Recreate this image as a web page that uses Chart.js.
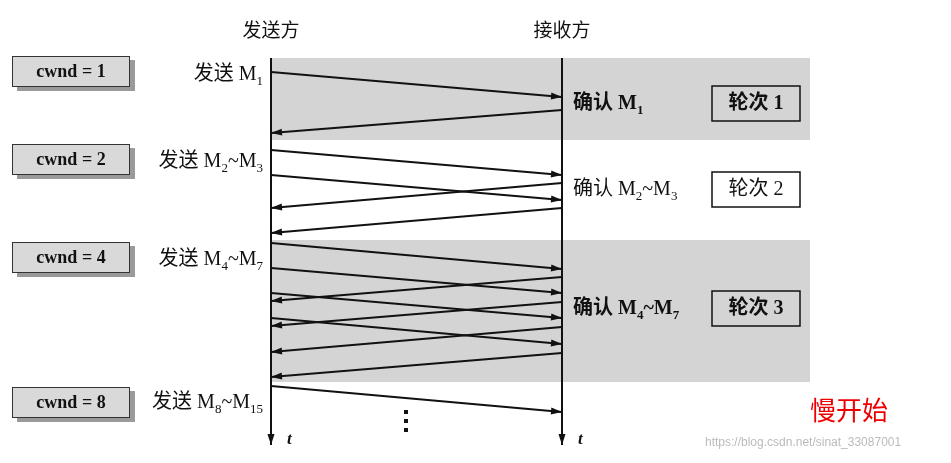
<!DOCTYPE html>
<html><head><meta charset="utf-8">
<script src="https://cdn.jsdelivr.net/npm/chart.js@4"></script>
<style>html,body{margin:0;padding:0;background:#fff}#c{display:block}</style>
</head><body>
<div style="width:951px;height:463px"><canvas id="c"></canvas></div>
<script>
// Timeline positions (x of sender/receiver, y in picture units, top = 0)
const senderX = 271, receiverX = 562;
// segments: [startY at sender, endY at receiver] for sends; [startY at receiver, endY at sender] for acks
const sends = [[72,97],[150,175],[175,200],[243,269],[268,293],[293,318],[318,344],[386,412]];
const acks = [[110,133],[183,208],[208,233],[277,301],[302,326],[327,352],[353,377]];
const cwndLabels = ["cwnd = 1","cwnd = 2","cwnd = 4","cwnd = 8"];
const cwndY = [72,160,258,403];
const sendLabels = [["发送 M","1",""],["发送 M","2","~M","3"],["发送 M","4","~M","7"],["发送 M","8","~M","15"]];
const sendLabelY = [75,162,260,403];
const ackLabels = [["确认 M","1"],["确认 M","2","~M","3"],["确认 M","4","~M","7"]];
const ackLabelY = [104,190,309];
const roundLabels = ["轮次 1","轮次 2","轮次 3"];
const bands = [[58,140],[240,382]];

const datasets = [];
sends.forEach(s => datasets.push({data:[{x:senderX,y:s[0]},{x:receiverX,y:s[1]}],arrow:true}));
acks.forEach(a => datasets.push({data:[{x:receiverX,y:a[0]},{x:senderX,y:a[1]}],arrow:true}));
datasets.push({data:[{x:senderX,y:58},{x:senderX,y:445}],arrow:true});
datasets.push({data:[{x:receiverX,y:58},{x:receiverX,y:445}],arrow:true});
datasets.forEach(d=>{d.showLine=true;d.borderColor='#111';d.borderWidth=2;d.pointRadius=0;});

function sub(ctx, parts, x, y, align, bold){
  const big=(bold?'bold ':'')+'20px "Liberation Serif","Noto Sans CJK SC",serif', small=(bold?'bold ':'')+'13px "Liberation Serif",serif';
  let w=0;
  parts.forEach((p,i)=>{ctx.font=i%2?small:big;w+=ctx.measureText(p).width;});
  let cx = align==='right'? x-w : x;
  parts.forEach((p,i)=>{ctx.font=i%2?small:big;ctx.fillText(p,cx,i%2?y+7:y);cx+=ctx.measureText(p).width;});
}

const deco = {
  id:'deco',
  beforeDatasetsDraw(chart){
    const {ctx,scales:{x,y}}=chart;
    ctx.save();
    ctx.fillStyle='#d4d4d4';
    bands.forEach(b=>ctx.fillRect(x.getPixelForValue(senderX),y.getPixelForValue(b[0]),x.getPixelForValue(810)-x.getPixelForValue(senderX),y.getPixelForValue(b[1])-y.getPixelForValue(b[0])));
    ctx.restore();
  },
  afterDatasetsDraw(chart){
    const {ctx,scales:{x,y}}=chart;
    ctx.save();
    chart.data.datasets.forEach(d=>{
      const p0=d.data[0],p1=d.data[1];
      const x0=x.getPixelForValue(p0.x),y0=y.getPixelForValue(p0.y),x1=x.getPixelForValue(p1.x),y1=y.getPixelForValue(p1.y);
      const a=Math.atan2(y1-y0,x1-x0);
      ctx.fillStyle='#111';ctx.beginPath();ctx.moveTo(x1,y1);
      ctx.lineTo(x1-11*Math.cos(a)+3.5*Math.sin(a),y1-11*Math.sin(a)-3.5*Math.cos(a));
      ctx.lineTo(x1-11*Math.cos(a)-3.5*Math.sin(a),y1-11*Math.sin(a)+3.5*Math.cos(a));
      ctx.closePath();ctx.fill();
    });
    ctx.fillStyle='#111';ctx.textBaseline='middle';
    ctx.font='19px "Noto Sans CJK SC",sans-serif';ctx.textAlign='center';
    ctx.fillText('发送方',x.getPixelForValue(senderX),y.getPixelForValue(30));
    ctx.fillText('接收方',x.getPixelForValue(receiverX),y.getPixelForValue(30));
    ctx.textAlign='left';
    cwndLabels.forEach((t,i)=>{
      const yy=y.getPixelForValue(cwndY[i]);
      ctx.fillStyle='#9a9a9a';ctx.fillRect(17,yy-12,118,31);
      ctx.fillStyle='#d9d9d9';ctx.fillRect(12,yy-16,118,31);
      ctx.strokeStyle='#333';ctx.lineWidth=1;ctx.strokeRect(12.5,yy-15.5,117,30);
      ctx.fillStyle='#111';ctx.font='bold 18px "Liberation Serif",serif';ctx.textAlign='center';
      ctx.fillText(t,71,yy);ctx.textAlign='left';
    });
    sendLabels.forEach((p,i)=>sub(ctx,p,x.getPixelForValue(263),y.getPixelForValue(sendLabelY[i]),'right',false));
    ackLabels.forEach((p,i)=>sub(ctx,p,x.getPixelForValue(573),y.getPixelForValue(ackLabelY[i]),'left',i!==1));
    roundLabels.forEach((t,i)=>{
      const yy=y.getPixelForValue(ackLabelY[i]);
      ctx.fillStyle=i===1?'#fff':'#d4d4d4';
      ctx.fillRect(712,yy-18,88,35);
      ctx.strokeStyle='#111';ctx.lineWidth=1.5;ctx.strokeRect(712,yy-18,88,35);
      ctx.fillStyle='#111';ctx.font=(i!==1?'bold ':'')+'20px "Liberation Serif","Noto Sans CJK SC",serif';ctx.textAlign='center';
      ctx.fillText(t,756,yy);ctx.textAlign='left';
    });
    ctx.font='italic bold 17px "Liberation Serif",serif';
    ctx.fillText('t',287,y.getPixelForValue(440));ctx.fillText('t',578,y.getPixelForValue(440));
    [412,421,430].forEach(v=>ctx.fillRect(404,y.getPixelForValue(v)-2,4,4));
    ctx.fillStyle='#e00';ctx.font='26px "Noto Sans CJK SC",sans-serif';ctx.fillText('慢开始',810,y.getPixelForValue(410));
    ctx.fillStyle='#bbb';ctx.font='12px "Liberation Sans",sans-serif';ctx.fillText('https://blog.csdn.net/sinat_33087001',705,y.getPixelForValue(443));
    ctx.restore();
  }
};

new Chart(document.getElementById('c'),{
  type:'scatter',
  data:{datasets},
  options:{
    responsive:true,maintainAspectRatio:false,animation:false,
    layout:{padding:0},
    plugins:{legend:{display:false},tooltip:{enabled:false}},
    scales:{
      x:{type:'linear',min:0,max:951,display:false},
      y:{type:'linear',min:0,max:463,reverse:true,display:false}
    }
  },
  plugins:[deco]
});
</script>
</body></html>
